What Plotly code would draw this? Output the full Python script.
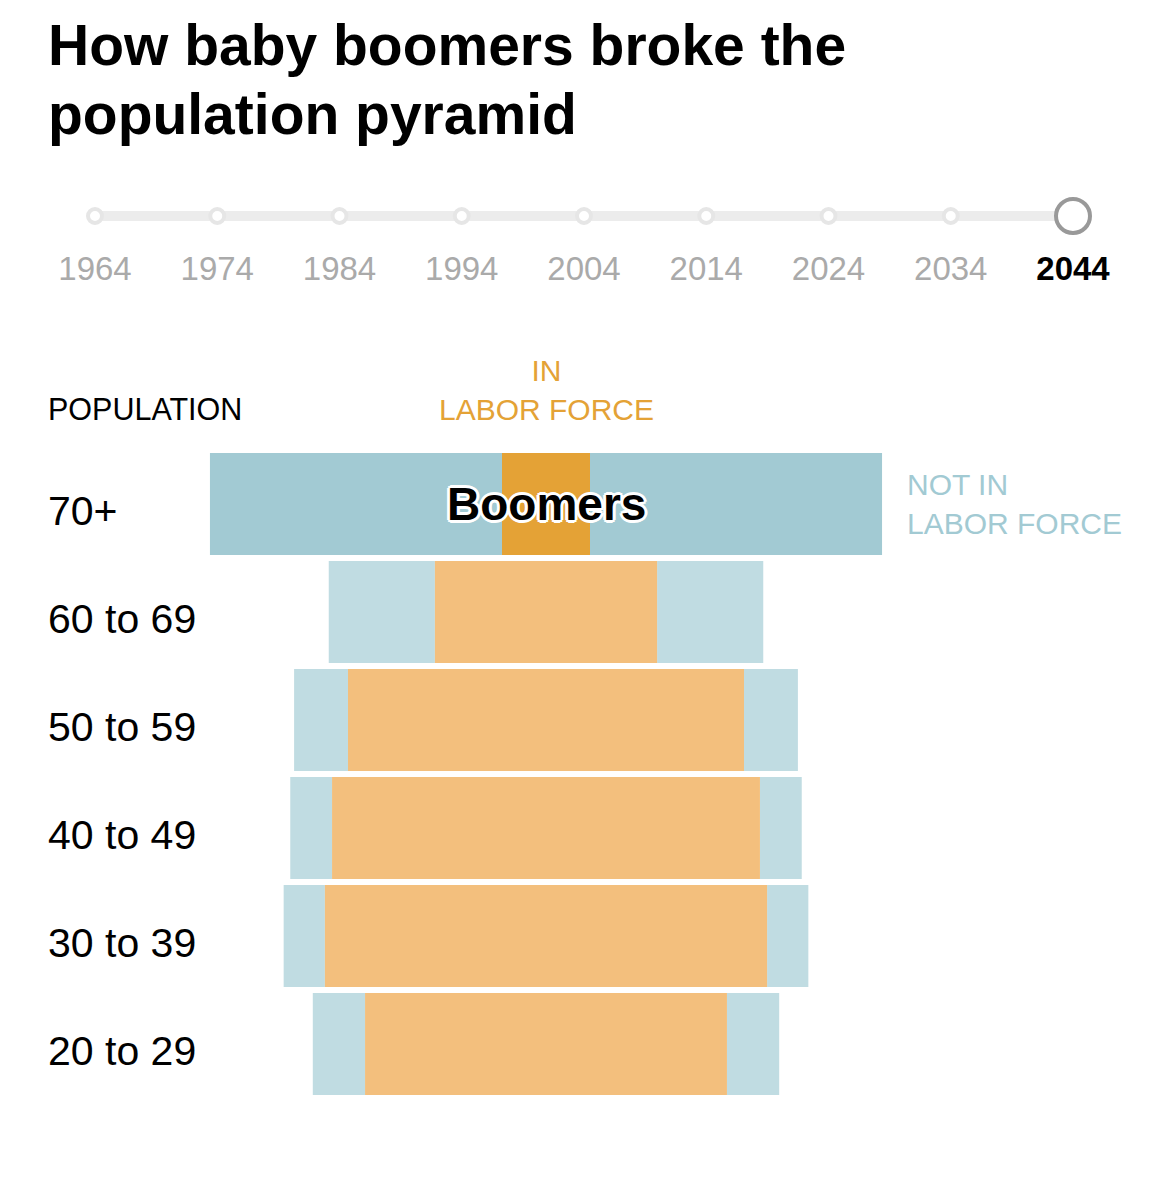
import plotly.graph_objects as go

# ---------------- data ----------------
age_groups = ["70+", "60 to 69", "50 to 59", "40 to 49", "30 to 39", "20 to 29"]
# population (millions), 2044 projection
in_labor_force = [8.0, 20.2, 36.0, 38.9, 40.2, 32.9]
not_in_labor_force = [53.1, 19.3, 9.8, 7.6, 7.5, 9.5]
boomer_group = "70+"

years = [1964, 1974, 1984, 1994, 2004, 2014, 2024, 2034, 2044]
selected_year = 2044

title_lines = ["How baby boomers broke the", "population pyramid"]

# ---------------- styling ----------------
W, H = 1159, 1184
OFF = 8  # page body margin
FONT = "Liberation Sans, Arial, sans-serif"
BLUE_HI, BLUE = "#a2cad3", "#c0dce2"
ORANGE_HI, ORANGE = "#e4a236", "#f3bf7d"

def py(p):  # screen pixel y -> paper y
    return 1 - (p - OFF) / H

def px(p):  # screen pixel x -> paper x
    return (p - OFF) / W

half_lf = [v / 2 for v in in_labor_force]
half_nlf = [v / 2 for v in not_in_labor_force]
is_boomer = [g == boomer_group for g in age_groups]
blue_colors = [BLUE_HI if b else BLUE for b in is_boomer]
orange_colors = [ORANGE_HI if b else ORANGE for b in is_boomer]

fig = go.Figure()

# left "not in labor force"
fig.add_trace(go.Bar(
    y=age_groups, x=half_nlf, base=[-(a + b) for a, b in zip(half_lf, half_nlf)],
    orientation="h", marker=dict(color=blue_colors, line=dict(width=0)),
    name="Not in labor force", hoverinfo="skip"))
# right "not in labor force"
fig.add_trace(go.Bar(
    y=age_groups, x=half_nlf, base=half_lf,
    orientation="h", marker=dict(color=blue_colors, line=dict(width=0)),
    name="Not in labor force", hoverinfo="skip"))
# centre "in labor force"
fig.add_trace(go.Bar(
    y=age_groups, x=in_labor_force, base=[-a for a in half_lf],
    orientation="h", marker=dict(color=orange_colors, line=dict(width=0)),
    name="In labor force", hoverinfo="skip"))

# timeline
fig.add_trace(go.Scatter(
    x=[years[0], years[-1]], y=[0, 0], mode="lines",
    line=dict(color="#ececec", width=10), xaxis="x2", yaxis="y2",
    hoverinfo="skip"))
fig.add_trace(go.Scatter(
    x=[y for y in years if y != selected_year], y=[0] * (len(years) - 1),
    mode="markers",
    marker=dict(size=14, color="white", line=dict(color="#e6e6e6", width=4)),
    xaxis="x2", yaxis="y2", hoverinfo="skip"))
fig.add_trace(go.Scatter(
    x=[selected_year], y=[0], mode="markers",
    marker=dict(size=34, color="white", line=dict(color="#999999", width=4)),
    xaxis="x2", yaxis="y2", hoverinfo="skip"))
fig.add_trace(go.Scatter(
    x=years, y=[-1] * len(years), mode="text",
    text=[f"<b>{y}</b>" if y == selected_year else str(y) for y in years],
    textposition="middle center",
    textfont=dict(family=FONT, size=33,
                  color=["#000000" if y == selected_year else "#aaaaaa" for y in years]),
    xaxis="x2", yaxis="y2", hoverinfo="skip"))

annotations = []
# title
for i, line in enumerate(title_lines):
    annotations.append(dict(
        text=f"<b>{line}</b>", xref="paper", yref="paper",
        x=px(46), y=py(45 + i * 69), xanchor="left", yanchor="middle",
        showarrow=False, font=dict(family=FONT, size=57, color="#000")))
# row labels
for g in age_groups:
    annotations.append(dict(
        text=g, xref="paper", yref="y", x=px(46), y=g, yshift=-7,
        xanchor="left", yanchor="middle", showarrow=False,
        font=dict(family=FONT, size=41, color="#000")))
# headers
annotations.append(dict(
    text="POPULATION", xref="paper", yref="paper", x=px(46), y=py(409),
    xanchor="left", yanchor="middle", showarrow=False,
    font=dict(family=FONT, size=30.5, color="#000")))
annotations.append(dict(
    text="IN<br>LABOR FORCE", xref="x", yref="paper", x=0, y=py(390),
    xanchor="center", yanchor="middle", showarrow=False, align="center",
    font=dict(family=FONT, size=30, color="#e4a236")))
bi = age_groups.index(boomer_group)
annotations.append(dict(
    text="NOT IN<br>LABOR FORCE", xref="x", yref="y",
    x=half_lf[bi] + half_nlf[bi], y=boomer_group, xshift=23,
    xanchor="left", yanchor="middle", showarrow=False, align="left",
    font=dict(family=FONT, size=30, color="#a2cad3")))
annotations.append(dict(
    text="<b>Boomers</b>", xref="x", yref="y", x=0, y=boomer_group,
    xanchor="center", yanchor="middle", showarrow=False,
    font=dict(family=FONT, size=46, color="#000",
              shadow="3px 0 0 #fff, -3px 0 0 #fff, 0 3px 0 #fff, 0 -3px 0 #fff, "
                     "2px 2px 0 #fff, -2px -2px 0 #fff, 2px -2px 0 #fff, -2px 2px 0 #fff")))

scale = 11.0  # px per million
centre_px = 546 - OFF
tl_l, tl_r = 95 - OFF, 1073 - OFF
tl_scale = (tl_r - tl_l) / (years[-1] - years[0])

fig.update_layout(
    width=W, height=H, margin=dict(l=0, r=0, t=0, b=0),
    paper_bgcolor="white", plot_bgcolor="white",
    barmode="overlay", bargap=0.056, showlegend=False,
    xaxis=dict(range=[-centre_px / scale, (W - centre_px) / scale], domain=[0, 1],
               visible=False, fixedrange=True),
    yaxis=dict(range=[len(age_groups) - 0.5, -0.5], domain=[py(1098), py(450)],
               visible=False, fixedrange=True),
    xaxis2=dict(range=[years[0] - tl_l / tl_scale, years[-1] + (W - tl_r) / tl_scale],
                domain=[0, 1], visible=False, anchor="y2"),
    yaxis2=dict(range=[-1.5, 0.5], domain=[py(300), py(188)], visible=False,
                anchor="x2"),
    annotations=annotations,
)

fig.write_html("out.html")
